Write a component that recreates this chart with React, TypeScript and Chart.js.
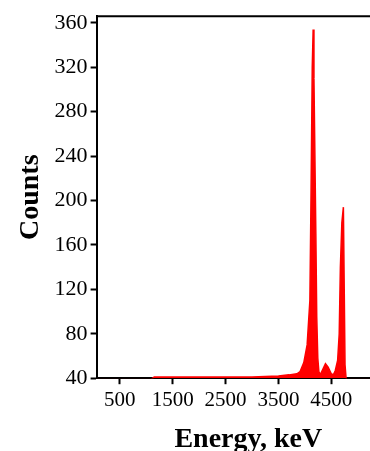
import React, { useEffect, useRef } from "react";
import { Chart, registerables } from "chart.js";

Chart.register(...registerables);

const energies = [0, 1000, 1150, 1500, 2000, 2500, 3000, 3500, 3700, 3850, 3910, 3980, 4043, 4095, 4118, 4140, 4157, 4172, 4190, 4208, 4225, 4245, 4265, 4290, 4340, 4390, 4440, 4500, 4540, 4576, 4620, 4650, 4672, 4700, 4729, 4745, 4760, 4780, 4805, 5000, 6000];
const counts = [30, 36, 41, 41, 41, 41, 41, 42, 43, 44, 46, 54, 70, 110, 210, 320, 354, 310, 240, 170, 95, 58, 46, 43, 48, 53, 50, 44, 43, 47, 56, 80, 140, 180, 194, 120, 52, 40, 36, 30, 30];
const xTicks = [500, 1500, 2500, 3500, 4500];
const yTicks = [40, 80, 120, 160, 200, 240, 280, 320, 360];

export default function App() {
  const ref = useRef<HTMLCanvasElement>(null);
  useEffect(() => {
    if (!ref.current) return;
    const font = "'Liberation Serif', 'Times New Roman', serif";
    const chart = new Chart(ref.current, {
      type: "line",
      data: {
        datasets: [
          {
            data: energies.map((e, i) => ({ x: e, y: counts[i] })),
            borderColor: "#ff0000",
            backgroundColor: "#ff0000",
            borderWidth: 1.5,
            pointRadius: 0,
            fill: "start",
            tension: 0,
          },
        ],
      },
      options: {
        animation: false,
        responsive: false,
        maintainAspectRatio: false,
        layout: { padding: { top: 10, right: 0, left: 14, bottom: 0 } },
        plugins: { legend: { display: false }, tooltip: { enabled: false } },
        scales: {
          x: {
            type: "linear",
            min: 60,
            max: 5800,
            afterBuildTicks: (s: any) => {
              s.ticks = xTicks.map((v) => ({ value: v }));
            },
            grid: {
              display: true,
              drawOnChartArea: false,
              drawTicks: true,
              tickLength: 6,
              tickWidth: 2,
              color: "#000",
            },
            border: { display: true, color: "#000", width: 2 },
            ticks: {
              color: "#000",
              font: { family: font, size: 21 },
              maxRotation: 0,
              padding: 4,
              callback: (v: any) => String(v),
            },
            title: {
              display: true,
              text: "Energy, keV",
              color: "#000",
              font: { family: font, size: 28, weight: "bold" },
              padding: { top: 6, bottom: 0 },
            },
          },
          y: {
            min: 40,
            max: 366,
            afterBuildTicks: (s: any) => {
              s.ticks = yTicks.map((v) => ({ value: v }));
            },
            grid: {
              display: true,
              drawOnChartArea: false,
              drawTicks: true,
              tickLength: 6,
              tickWidth: 2,
              color: "#000",
            },
            border: { display: true, color: "#000", width: 2 },
            ticks: {
              color: "#000",
              font: { family: font, size: 22 },
              padding: 3,
              callback: (v: any) => String(v),
            },
            title: {
              display: true,
              text: "Counts",
              color: "#000",
              font: { family: font, size: 28, weight: "bold" },
              padding: { top: 0, bottom: 4 },
            },
          },
        },
      },
      plugins: [
        {
          id: "topBorder",
          afterDraw: (c: any) => {
            const { ctx, chartArea } = c;
            ctx.save();
            ctx.strokeStyle = "#000";
            ctx.lineWidth = 2;
            ctx.beginPath();
            ctx.moveTo(chartArea.left, chartArea.top);
            ctx.lineTo(chartArea.right, chartArea.top);
            ctx.stroke();
            ctx.restore();
          },
        },
      ],
    } as any);
    return () => chart.destroy();
  }, []);
  return (
    <div style={{ position: "absolute", left: 0, top: 0, width: 370, height: 451, overflow: "hidden", background: "#fff" }}>
      <canvas ref={ref} width={400} height={457} style={{ display: "block" }} />
    </div>
  );
}
